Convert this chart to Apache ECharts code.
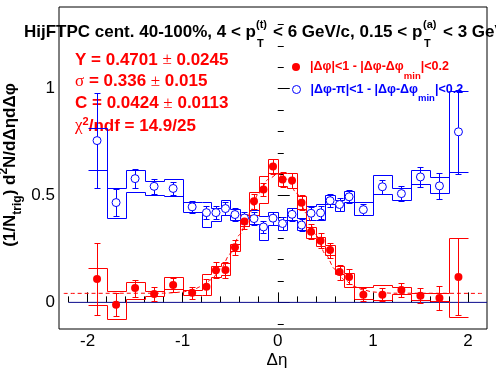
<!DOCTYPE html>
<html><head><meta charset="utf-8">
<script src="https://cdn.jsdelivr.net/npm/echarts@6/dist/echarts.min.js"></script>
<style>html,body{margin:0;padding:0;background:#fff}#c{width:496px;height:374px}</style>
</head><body><div id="c"></div>
<script>
// ---- data ----
const binEdges = [-2.0,-1.8,-1.6,-1.4,-1.2,-1.0,-0.8,-0.7,-0.6,-0.5,-0.4,-0.3,-0.2,-0.1,0.0,0.1,0.2,0.3,0.4,0.5,0.6,0.7,0.8,1.0,1.2,1.4,1.6,1.8,2.0];
const binCenters = [-1.9,-1.7,-1.5,-1.3,-1.1,-0.9,-0.75,-0.65,-0.55,-0.45,-0.35,-0.25,-0.15,-0.05,0.05,0.15,0.25,0.35,0.45,0.55,0.65,0.75,0.9,1.1,1.3,1.5,1.7,1.9];

const redY     = [0.110,-0.011,0.067,0.039,0.081,0.045,0.073,0.150,0.152,0.258,0.379,0.473,0.528,0.636,0.575,0.570,0.466,0.331,0.288,0.245,0.142,0.119,0.036,0.036,0.058,0.031,0.021,0.119];
const redErr   = [0.170,0.055,0.040,0.031,0.034,0.027,0.037,0.037,0.037,0.034,0.036,0.034,0.031,0.037,0.035,0.035,0.035,0.035,0.035,0.035,0.035,0.035,0.031,0.031,0.031,0.035,0.058,0.180];
const redSysHi = [0.161,0.052,0.095,0.052,0.117,0.059,0.133,0.172,0.185,0.273,0.411,0.517,0.593,0.672,0.606,0.606,0.500,0.353,0.306,0.270,0.172,0.138,0.070,0.083,0.072,0.044,0.044,0.302];
const redSysLo = [-0.014,-0.078,0.017,0.031,0.063,0.036,0.036,0.120,0.128,0.239,0.359,0.411,0.466,0.606,0.543,0.536,0.437,0.302,0.262,0.223,0.134,0.070,0.015,0.013,0.041,0.013,0.005,-0.068];

const blueY     = [0.757,0.467,0.579,0.543,0.533,0.447,0.420,0.420,0.439,0.411,0.395,0.392,0.353,0.394,0.369,0.412,0.362,0.417,0.419,0.476,0.458,0.494,0.434,0.541,0.509,0.587,0.545,0.798];
const blueErr   = [0.222,0.062,0.045,0.035,0.032,0.029,0.030,0.030,0.030,0.030,0.030,0.030,0.030,0.030,0.030,0.030,0.030,0.030,0.030,0.030,0.030,0.030,0.027,0.032,0.034,0.045,0.061,0.195];
const blueSysHi = [0.817,0.534,0.618,0.570,0.575,0.470,0.468,0.442,0.478,0.437,0.411,0.430,0.406,0.422,0.387,0.442,0.395,0.450,0.458,0.504,0.481,0.523,0.468,0.597,0.536,0.620,0.586,0.988];
const blueSysLo = [0.618,0.395,0.517,0.504,0.500,0.423,0.353,0.379,0.411,0.387,0.359,0.369,0.294,0.364,0.341,0.387,0.341,0.387,0.387,0.458,0.426,0.468,0.411,0.509,0.480,0.555,0.512,0.611];

const fitX = [-2.25,-1.2,-1.1,-1.0,-0.9,-0.8,-0.7,-0.6,-0.5,-0.4,-0.3,-0.2,-0.1,0.0,0.1,0.2,0.3,0.4,0.5,0.6,0.7,0.8,0.9,1.0,1.1,1.2,2.15];
const fitY = [0.042,0.043,0.045,0.049,0.058,0.075,0.106,0.156,0.227,0.317,0.417,0.510,0.576,0.601,0.576,0.510,0.417,0.317,0.227,0.156,0.106,0.075,0.058,0.049,0.045,0.043,0.042];

const zeroX = [-2.2, 2.2];
const zeroY = [0, 0];

const xMajorTicks = [-2,-1,0,1,2];
const xMinorTicks = [-2.2,-1.8,-1.6,-1.4,-1.2,-0.8,-0.6,-0.4,-0.2,0.2,0.4,0.6,0.8,1.2,1.4,1.6,1.8];
const yMajorTicks = [0,0.5,1];
const yMinorTicks = [-0.1,0.1,0.2,0.3,0.4,0.6,0.7,0.8,0.9,1.1,1.2,1.3];

const redName  = 'near';
const blueName = 'away';

// ---- build library inputs ----
const FONT = '"Liberation Sans", Arial, sans-serif';
const RED = '#ff0000', BLUE = '#0000ff';

function pts(ys, errs){ return binCenters.map((x,i)=>[x, ys[i], errs[i]]); }
function stepItems(hi, lo){
  return hi.map((h,i)=>[binEdges[i], binEdges[i+1], h, lo[i], i>0?hi[i-1]:h, i>0?lo[i-1]:lo[i]]);
}
const snap = v => Math.round(v) + 0.5;

function errRender(color){
  return function(params, api){
    const x=api.value(0), y=api.value(1), e=api.value(2);
    const t=api.coord([x,y+e]), b=api.coord([x,y-e]);
    const X=snap(t[0]), T=snap(t[1]), B=snap(b[1]), cw=3;
    const st={stroke:color, lineWidth:1};
    return {type:'group', children:[
      {type:'line', shape:{x1:X,y1:T,x2:X,y2:B}, style:st},
      {type:'line', shape:{x1:X-cw,y1:T,x2:X+cw,y2:T}, style:st},
      {type:'line', shape:{x1:X-cw,y1:B,x2:X+cw,y2:B}, style:st}
    ]};
  };
}
function stepRender(color){
  return function(params, api){
    const x0=api.value(0), x1=api.value(1), h=api.value(2), l=api.value(3), ph=api.value(4), pl=api.value(5);
    const a=api.coord([x0,h]), b=api.coord([x1,l]), c=api.coord([x0,ph]), d=api.coord([x0,pl]);
    const X0=snap(a[0]), X1=snap(b[0]), H=snap(a[1]), L=snap(b[1]), PH=snap(c[1]), PL=snap(d[1]);
    const st={stroke:color, lineWidth:1, fill:null};
    const ch=[
      {type:'line', shape:{x1:X0,y1:H,x2:X1,y2:H}, style:st},
      {type:'line', shape:{x1:X0,y1:L,x2:X1,y2:L}, style:st}
    ];
    if(params.dataIndex>0){
      ch.push({type:'line', shape:{x1:X0,y1:PH,x2:X0,y2:H}, style:st});
      ch.push({type:'line', shape:{x1:X0,y1:PL,x2:X0,y2:L}, style:st});
    }
    return {type:'group', children:ch};
  };
}

const chart = echarts.init(document.getElementById('c'), null, {renderer:'canvas'});
const legendCommon = {
  orient:'vertical', padding:0, itemWidth:18, itemHeight:8, itemGap:0, selectedMode:false,
  textStyle:{rich:{
    r:{fontFamily:FONT, fontWeight:'bold', fontSize:12.5, color:RED, lineHeight:28},
    rs:{fontFamily:FONT, fontWeight:'bold', fontSize:9.5, color:RED, lineHeight:10, verticalAlign:'bottom'},
    b:{fontFamily:FONT, fontWeight:'bold', fontSize:12.5, color:BLUE, lineHeight:28},
    bs:{fontFamily:FONT, fontWeight:'bold', fontSize:9.5, color:BLUE, lineHeight:10, verticalAlign:'bottom'}
  }}
};
const redLabel  = '{r||Δφ|<1 - |Δφ-Δφ}{rs|min}{r||<0.2}';
const blueLabel = '{b||Δφ-π|<1 - |Δφ-Δφ}{bs|min}{b||<0.2}';

function txt(x, y, text, size, extra){
  return Object.assign({type:'text', x:x, y:y, z:0, style:Object.assign({text:text, font:'bold '+size+'px '+FONT, fill:'#000', align:'left', verticalAlign:'middle', textAlign:'left', textVerticalAlign:'middle'}, extra||{})});
}
const statRich = {
  b:{fontFamily:FONT, fontWeight:'bold', fontSize:17, fill:RED, lineHeight:20},
  n:{fontFamily:'"Liberation Serif", serif', fontWeight:'normal', fontSize:17, fill:RED, lineHeight:20},
  p:{fontFamily:FONT, fontWeight:'bold', fontSize:11, fill:RED, lineHeight:11, verticalAlign:'top'}
};
function stat(y, text){
  return {type:'text', x:75, y:y, z:0, style:{text:text, rich:statRich, align:'left', verticalAlign:'middle', textAlign:'left', textVerticalAlign:'middle'}};
}

chart.setOption({
  animation:false,
  backgroundColor:'#fff',
  textStyle:{fontFamily:FONT},
  grid:{left:59, right:9, top:7, bottom:45, show:true, borderColor:'#000', borderWidth:1, backgroundColor:'transparent', outerBoundsMode:'none', containLabel:false},
  xAxis:[
    {type:'value', min:-2.3, max:2.2, position:'bottom',
     axisLine:{show:false}, splitLine:{show:false},
     axisTick:{show:true, inside:true, length:10, customValues:xMajorTicks, lineStyle:{color:'#000'}},
     axisLabel:{show:true, customValues:xMajorTicks, fontSize:17, color:'#000', margin:4, fontFamily:FONT}},
    {type:'value', min:-2.3, max:2.2, position:'bottom',
     axisLine:{show:false}, splitLine:{show:false},
     axisTick:{show:true, inside:true, length:6, customValues:xMinorTicks, lineStyle:{color:'#000'}},
     axisLabel:{show:false}}
  ],
  yAxis:[
    {type:'value', min:-0.1245, max:1.382, position:'left',
     axisLine:{show:false}, splitLine:{show:false},
     axisTick:{show:true, inside:true, length:12, customValues:yMajorTicks, lineStyle:{color:'#000'}},
     axisLabel:{show:true, customValues:yMajorTicks, fontSize:17, color:'#000', margin:4, fontFamily:FONT}},
    {type:'value', min:-0.1245, max:1.382, position:'left',
     axisLine:{show:false}, splitLine:{show:false},
     axisTick:{show:true, inside:true, length:6, customValues:yMinorTicks, lineStyle:{color:'#000'}},
     axisLabel:{show:false}}
  ],
  legend:[
    Object.assign({}, legendCommon, {left:292, top:60.5, data:[{name:redName, icon:'circle', itemStyle:{color:RED}}], formatter:()=>redLabel}),
    Object.assign({}, legendCommon, {left:292, top:83, data:[{name:blueName, icon:'circle', itemStyle:{color:'#fff', borderColor:BLUE, borderWidth:1}}], formatter:()=>blueLabel})
  ],
  graphic:[
    txt(24, 32, 'HijFTPC cent. 40-100%, 4 < p', 17),
    txt(256, 25, '(t)', 11),
    txt(257, 44, 'T', 11),
    txt(273, 32, '< 6 GeV/c, 0.15 < p', 17),
    txt(423, 25, '(a)', 11),
    txt(424, 44, 'T', 11),
    txt(443, 32, '< 3 GeV/c', 17),
    stat(60, '{b|Y = 0.4701 }{n|±}{b| 0.0245}'),
    stat(81.7, '{n|σ}{b| = 0.336 }{n|±}{b| 0.015}'),
    stat(103.3, '{b|C = 0.0424 }{n|±}{b| 0.0113}'),
    stat(126, '{n|χ}{p|2}{b|/ndf = 14.9/25}'),
    {type:'text', x:10.5, y:165, rotation:Math.PI/2, z:0, style:{
      text:'{m|(1/N}{s|trig}{m|) d}{p|2}{m|N/dΔηdΔφ}', align:'center', verticalAlign:'middle', textAlign:'center', textVerticalAlign:'middle',
      rich:{
        m:{fontFamily:FONT, fontWeight:'bold', fontSize:17, fill:'#000', lineHeight:26},
        s:{fontFamily:FONT, fontWeight:'bold', fontSize:12, fill:'#000', lineHeight:12, verticalAlign:'bottom'},
        p:{fontFamily:FONT, fontWeight:'bold', fontSize:12, fill:'#000', lineHeight:12, verticalAlign:'top'}
      }}},
    {type:'text', x:277, y:360, z:0, style:{text:'Δη', font:'17px '+FONT, fill:'#000', align:'center', verticalAlign:'middle', textAlign:'center', textVerticalAlign:'middle'}}
  ],
  series:[
    {type:'line', name:'zero', data:zeroX.map((x,i)=>[x,zeroY[i]]), symbol:'none', lineStyle:{color:'#0a0a8c', width:1}, z:1, silent:true},
    {type:'custom', name:'blueSys', data:stepItems(blueSysHi, blueSysLo), renderItem:stepRender(BLUE), encode:{x:[0,1], y:[2,3]}, z:2, silent:true},
    {type:'custom', name:'blueErr', data:pts(blueY, blueErr), renderItem:errRender(BLUE), encode:{x:0, y:1}, z:2, silent:true},
    {type:'custom', name:'redSys', data:stepItems(redSysHi, redSysLo), renderItem:stepRender(RED), encode:{x:[0,1], y:[2,3]}, z:3, silent:true},
    {type:'custom', name:'redErr', data:pts(redY, redErr), renderItem:errRender(RED), encode:{x:0, y:1}, z:3, silent:true},
    {type:'line', name:'fit', data:fitX.map((x,i)=>[x,fitY[i]]), symbol:'none', smooth:0.3, smoothMonotone:'x', lineStyle:{color:RED, width:1, type:[4,3]}, z:3, silent:true},
    {type:'scatter', name:blueName, data:binCenters.map((x,i)=>[x,blueY[i]]), symbol:'circle', symbolSize:8, itemStyle:{color:'#fff', borderColor:BLUE, borderWidth:1, opacity:1}, z:4, silent:true},
    {type:'scatter', name:redName, data:binCenters.map((x,i)=>[x,redY[i]]), symbol:'circle', symbolSize:8, itemStyle:{color:RED, opacity:1}, z:5, silent:true}
  ]
});
</script>
</body></html>
